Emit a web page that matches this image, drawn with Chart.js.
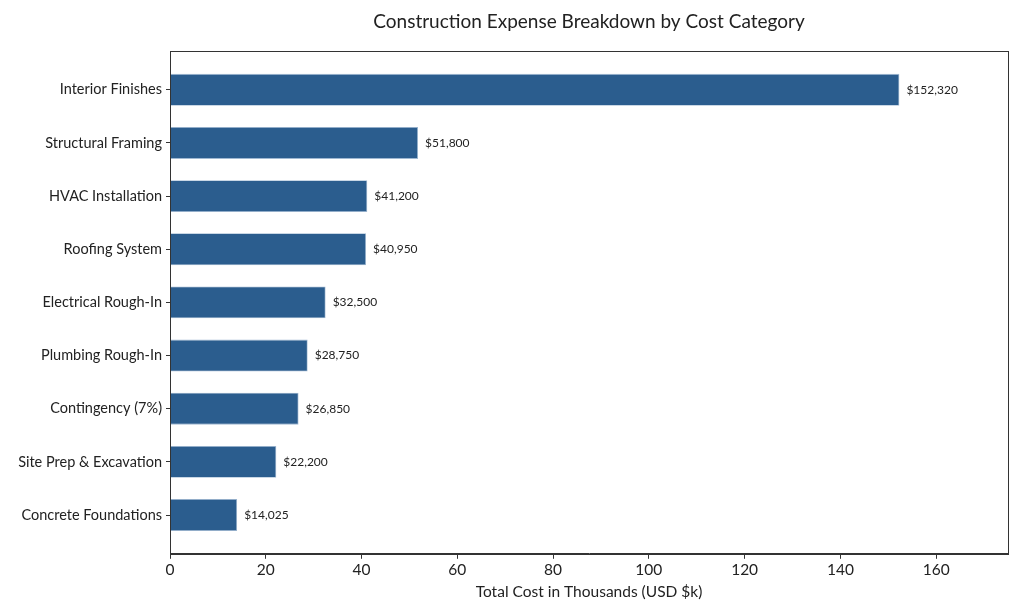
<!DOCTYPE html>
<html>
<head>
<meta charset="utf-8">
<script src="https://cdn.jsdelivr.net/npm/chart.js@4.4.0/dist/chart.umd.min.js"></script>
<style>
html,body{margin:0;padding:0;background:#fff;}
#wrap{width:1024px;height:614px;}
</style>
</head>
<body>
<div id="wrap"><canvas id="c" width="1024" height="614"></canvas></div>
<script>
const categories = ["Interior Finishes","Structural Framing","HVAC Installation","Roofing System","Electrical Rough-In","Plumbing Rough-In","Contingency (7%)","Site Prep & Excavation","Concrete Foundations"];
const costDollars = [152320, 51800, 41200, 40950, 32500, 28750, 26850, 22200, 14025];
const costThousands = costDollars.map(v => v / 1000);
const xTicks = [0, 20, 40, 60, 80, 100, 120, 140, 160];
const chartTitle = 'Construction Expense Breakdown by Cost Category';

const FONT = "Lato, 'Open Sans', sans-serif";
const TEXT = '#222';

const frame = {
  id: 'frame',
  afterDraw(chart) {
    const {ctx, chartArea: a} = chart;
    ctx.save();
    ctx.strokeStyle = '#333';
    ctx.lineWidth = 1;
    ctx.strokeRect(Math.round(a.left) + 0.5, Math.round(a.top) + 0.5, Math.round(a.right - a.left), Math.round(a.bottom - a.top));
    ctx.font = "19px " + FONT;
    ctx.fillStyle = TEXT;
    ctx.textAlign = 'center';
    ctx.textBaseline = 'middle';
    ctx.fillText(chartTitle, (a.left + a.right) / 2, 22);
    ctx.restore();
  }
};

const valueLabels = {
  id: 'valueLabels',
  afterDatasetsDraw(chart) {
    const {ctx} = chart;
    const meta = chart.getDatasetMeta(0);
    ctx.save();
    ctx.font = "12px " + FONT;
    ctx.fillStyle = TEXT;
    ctx.textBaseline = 'middle';
    ctx.textAlign = 'left';
    meta.data.forEach((bar, i) => {
      ctx.fillText('$' + costDollars[i].toLocaleString('en-US'), bar.x + 7, bar.y);
    });
    ctx.restore();
  }
};

new Chart(document.getElementById('c'), {
  type: 'bar',
  data: {
    datasets: [{
      data: costThousands.map((v, i) => ({x: v, y: i})),
      backgroundColor: '#2b5d8e',
      borderColor: '#9fb8d2',
      borderWidth: 0.8,
      barPercentage: 0.6,
      categoryPercentage: 1
    }]
  },
  plugins: [frame, valueLabels],
  options: {
    indexAxis: 'y',
    responsive: false,
    animation: false,
    devicePixelRatio: 1,
    layout: {padding: {left: 0, right: 16, top: 51, bottom: 0}},
    plugins: {
      legend: {display: false},
      tooltip: {enabled: false},
      title: {display: false}
    },
    scales: {
      x: {
        type: 'linear',
        min: 0,
        max: 175,
        afterBuildTicks(scale) { scale.ticks = xTicks.map(v => ({value: v})); },
        ticks: {color: TEXT, font: {family: FONT, size: 15.5}, padding: 2},
        grid: {drawOnChartArea: false, drawTicks: true, tickLength: 5, color: '#333'},
        border: {display: true, color: '#333'},
        title: {display: true, text: 'Total Cost in Thousands (USD $k)', color: TEXT, font: {family: FONT, size: 15.5}, padding: {top: 1, bottom: 13}}
      },
      y: {
        type: 'linear',
        reverse: true,
        offset: false,
        min: -0.73,
        max: categories.length - 1 + 0.73,
        afterBuildTicks(scale) { scale.ticks = categories.map((c, i) => ({value: i})); },
        afterFit(scale) { scale.width = 170; },
        ticks: {color: TEXT, font: {family: FONT, size: 14.5}, padding: 4, callback: v => categories[v]},
        grid: {offset: false, drawOnChartArea: false, drawTicks: true, tickLength: 4, color: '#333'},
        border: {display: true, color: '#333'}
      }
    }
  }
});
</script>
</body>
</html>
